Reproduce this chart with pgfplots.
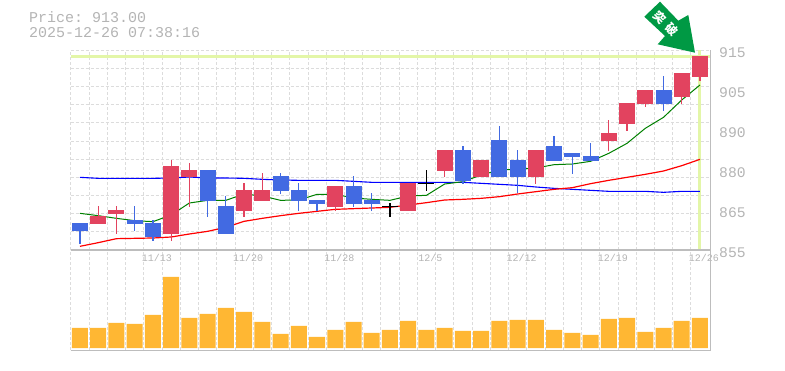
\documentclass[border=0pt]{standalone}
\usepackage{pgfplots}
\usepackage{pgfplotstable}
\pgfplotsset{compat=1.18}
\usepackage{fontspec}
\setmainfont{Liberation Mono}
\newfontfamily\cjk{Noto Sans CJK JP}
\frenchspacing
\definecolor{txt}{HTML}{B4B4B4}
\definecolor{axisc}{HTML}{BDBDBD}
\definecolor{gridc}{HTML}{DCDCDC}
\definecolor{up}{HTML}{E2435F}
\definecolor{down}{HTML}{426AE2}
\definecolor{vol}{HTML}{FFB733}
\definecolor{cur}{HTML}{E3F6A8}
\definecolor{arrowc}{HTML}{009944}
\pgfplotstableread{
i top bot high low
1 865.2 862.8 868.2 862.8
2 867.0 865.8 868.2 859.8
5 880.2 859.8 882.0 857.7
6 879.0 876.9 881.1 867.9
9 873.0 866.7 875.1 864.9
10 873.0 869.7 878.1 869.7
14 874.2 867.9 874.2 866.7
18 875.1 866.7 875.1 866.7
20 885.0 878.7 885.0 876.9
22 882.0 876.9 882.0 876.9
25 885.0 876.9 885.0 874.8
29 890.1 887.7 894.0 884.7
30 899.1 892.8 899.1 890.7
31 903.0 898.8 903.0 897.9
33 908.1 900.9 908.1 898.8
34 913.2 906.9 913.2 905.7
}\reds
\pgfplotstableread{
i top bot high low
0 863.1 860.7 863.1 856.8
3 864.0 862.8 868.2 860.7
4 863.1 858.9 864.0 857.7
7 879.0 869.7 879.0 864.9
8 868.2 859.8 871.2 859.8
11 877.2 872.7 878.1 871.8
12 873.0 869.7 875.1 866.7
13 870.0 868.8 870.0 866.7
15 874.2 868.8 877.2 867.9
16 870.0 868.8 872.1 866.7
21 885.0 875.7 886.2 874.8
23 888.0 876.9 892.2 876.9
24 882.0 876.9 885.0 872.1
26 886.2 881.7 889.2 881.7
27 884.1 882.9 884.1 877.8
28 883.2 881.7 887.1 881.7
32 903.0 898.8 907.2 896.7
}\blues
\pgfplotstableread{
i top bot high low
17 868.2 867.9 869.1 864.9
19 875.1 874.8 879.0 872.7
}\dojis
\pgfplotstableread{
i g r b
0 866.0 856.1 876.8
1 865.3 857.2 876.5
2 864.5 858.4 876.5
3 863.8 858.5 876.5
4 863.5 858.6 876.5
5 865.5 858.9 876.6
6 869.1 859.8 876.9
7 869.9 860.6 876.6
8 869.9 861.8 876.6
9 871.8 863.6 876.5
10 871.2 864.5 876.2
11 869.9 865.3 876.0
12 870.0 866.0 875.9
13 871.7 866.6 875.9
14 871.7 867.2 875.9
15 870.6 867.4 875.6
16 870.2 867.6 875.3
17 869.9 867.8 875.3
18 871.2 868.5 875.3
19 871.4 869.2 875.3
20 874.8 870.0 875.3
21 875.5 870.2 875.3
22 877.5 870.5 875.0
23 879.0 871.0 874.7
24 879.2 871.8 874.4
25 879.6 872.5 873.9
26 880.6 873.2 873.5
27 880.8 873.7 873.2
28 881.6 874.9 872.9
29 884.0 875.9 872.6
30 887.0 876.8 872.6
31 891.5 877.7 872.6
32 894.8 878.7 872.3
33 900.0 880.3 872.6
34 904.5 882.2 872.6
}\ma
\pgfplotstableread{
i v
0 20
1 20
2 25
3 24
4 33
5 71
6 30
7 34
8 40
9 36
10 26
11 14
12 22
13 11
14 18
15 26
16 15
17 18
18 27
19 18
20 20
21 17
22 17
23 27
24 28
25 28
26 18
27 15
28 13
29 29
30 30
31 16
32 20
33 27
34 30
}\volume
\pgfplotsset{common/.style={
  scale only axis,width=639.5pt,
  xmin=-0.52,xmax=34.55,
  axis line style={draw=axisc,line width=1pt},
  major tick length=0pt,minor tick length=0pt,
  tick style={draw=none},
}}
\def\candles#1#2{%
 \addplot[draw=none,no marks,forget plot,error bars/.cd,y dir=both,y explicit,error mark=none,
   error bar style={draw=#2,line width=1.2pt}]
   table[x=i,y=high,y error plus expr=0,y error minus expr=\thisrow{high}-\thisrow{low}]{#1};
 \addplot[draw=none,no marks,forget plot,error bars/.cd,y dir=both,y explicit,error mark=none,
   error bar style={draw=#2,line width=16pt}]
   table[x=i,y=top,y error plus expr=0,y error minus expr=\thisrow{top}-\thisrow{bot}]{#1};
}
\begin{document}
\begin{tikzpicture}
\useasboundingbox (0pt,0pt) rectangle (785pt,370pt);
\begin{axis}[common,at={(70.5pt,20pt)},anchor=south west,height=100pt,
  ymin=-2,ymax=98,
  axis x line*=box,
  axis y line*=right,
  xtick={-0.5,0.5,...,33.5},
  xticklabels=\empty,ytick=\empty,
  xmajorgrids,
  major grid style={draw=gridc,line width=0.8pt,dash pattern=on 3pt off 2pt},
  ybar,bar width=16pt,bar shift=0pt,
]
\addplot[draw=none,fill=vol] table[x=i,y=v]{\volume};
\end{axis}
\begin{axis}[common,at={(70.5pt,120pt)},anchor=south west,height=200pt,
  ymin=855,ymax=915,
  axis x line*=bottom,axis y line*=right,
  xtick={4,9,14,19,24,29,34},
  xticklabels={11/13,11/20,11/28,12/5,12/12,12/19,12/26},
  xticklabel style={font=\fontsize{10}{10}\selectfont,text=txt,xshift=4pt,yshift=-4pt,inner sep=0pt},
  ytick={915,903,891,879,867,855},
  yticklabels={915,905,890,880,865,855},
  yticklabel style={font=\fontsize{14.7}{15}\selectfont,text=txt,yshift=-3pt,xshift=9pt,inner sep=0pt,anchor=west},
  minor xtick={-0.5,0.5,...,33.5},
  minor ytick={915,909.55,904.09,898.64,893.18,887.73,882.27,876.82,871.36,865.91,860.45},
  xminorgrids,yminorgrids,
  minor grid style={draw=gridc,line width=0.8pt,dash pattern=on 3pt off 2pt},
  /pgf/number format/assume math mode=true,
]
\addplot[cur,line width=3pt,forget plot] coordinates {(-0.52,913) (34.55,913)};
\addplot[cur,line width=3pt,forget plot] coordinates {(34,915) (34,855)};
\addplot[draw=blue,line width=1.1pt] table[x=i,y=b]{\ma};
\addplot[draw=black!50!green,line width=1pt] table[x=i,y=g]{\ma};
\addplot[draw=red,line width=1.2pt] table[x=i,y=r]{\ma};
\candles{\reds}{up}
\candles{\blues}{down}
\candles{\dojis}{black}
\end{axis}
\draw[axisc,line width=1pt] (70.5pt,120pt) -- (710pt,120pt) -- (710pt,20pt) -- (70.5pt,20pt);
\node[anchor=base west,inner sep=0pt,text=txt,font=\fontsize{15}{15}\selectfont] at (29pt,347pt) {Price: 913.00};
\node[anchor=base west,inner sep=0pt,text=txt,font=\fontsize{15}{15}\selectfont] at (29pt,332pt) {2025-12-26 07:38:16};
\fill[arrowc] (660pt,368.3pt) -- (678.3pt,349.3pt) -- (688.3pt,355pt) -- (695pt,317.3pt) -- (657.7pt,325.7pt) -- (665pt,334pt) -- (644.3pt,353.3pt) -- cycle;
\node[rotate=-45,text=white,inner sep=0pt,font=\cjk\bfseries\fontsize{12}{12}\selectfont] at (660pt,352pt) {突};
\node[rotate=-45,text=white,inner sep=0pt,font=\cjk\bfseries\fontsize{12}{12}\selectfont] at (672pt,340pt) {破};
\end{tikzpicture}
\end{document}
